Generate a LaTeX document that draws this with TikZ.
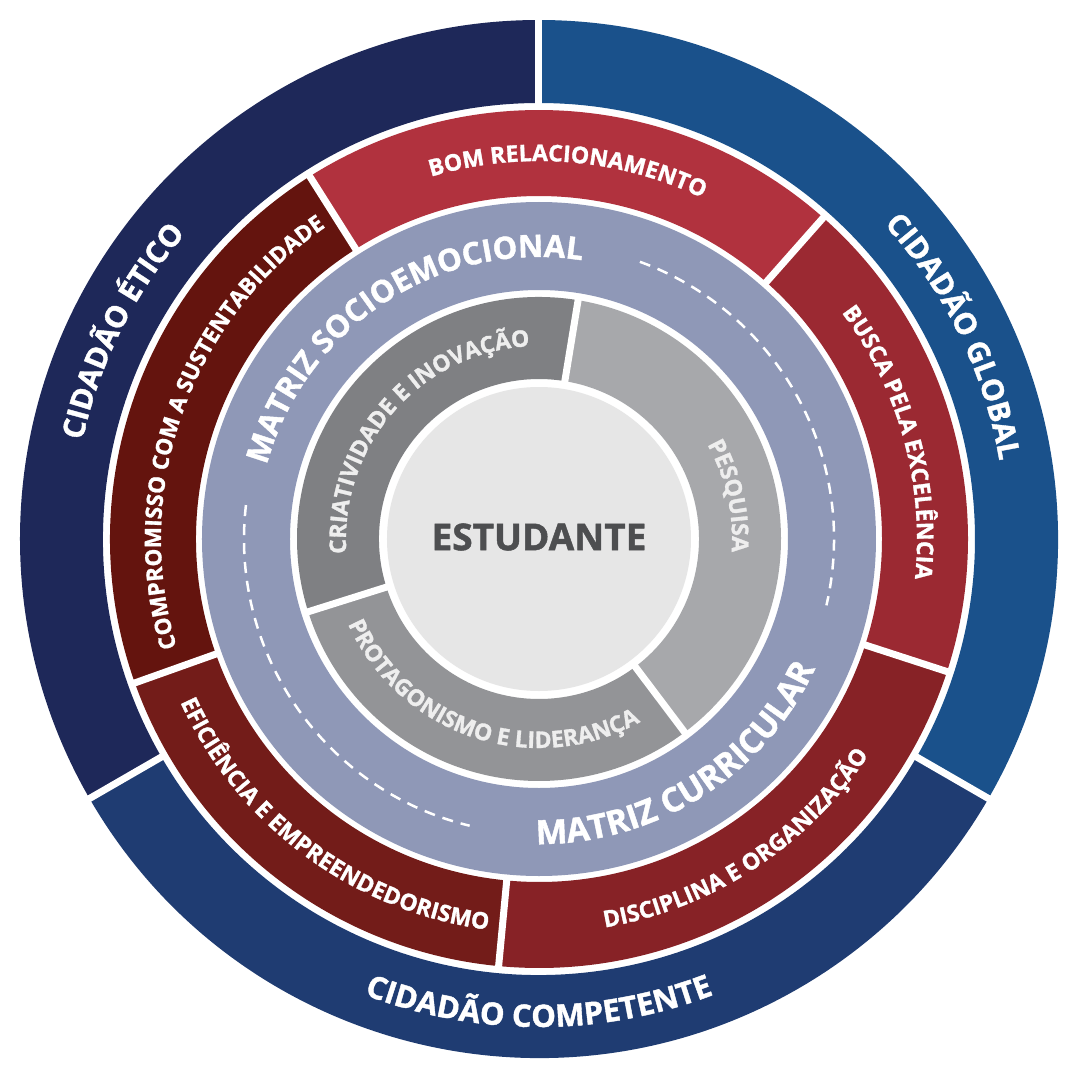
\documentclass[tikz,border=0pt]{standalone}
\usepackage{fontspec}
\setmainfont{Open Sans}[BoldFeatures={FakeBold=1.3}]
\usetikzlibrary{decorations.text}
\definecolor{etico}{HTML}{1E2859}
\definecolor{global}{HTML}{1A518B}
\definecolor{compet}{HTML}{1F3C72}
\definecolor{redA}{HTML}{B1323E}
\definecolor{redB}{HTML}{9B2932}
\definecolor{redC}{HTML}{872226}
\definecolor{redD}{HTML}{731C19}
\definecolor{redE}{HTML}{64140E}
\definecolor{lav}{HTML}{8F98B7}
\definecolor{greyA}{HTML}{7F8083}
\definecolor{greyB}{HTML}{A7A8AB}
\definecolor{greyC}{HTML}{939497}
\definecolor{core}{HTML}{E6E6E6}
\definecolor{coretext}{HTML}{4D4E50}
\definecolor{greytext}{HTML}{EEEEEE}
\newcommand\annsec[5]{\fill[#1] (#4:#3) arc[start angle=#4,end angle=#5,radius=#3] -- (#5:#2) arc[start angle=#5,end angle=#4,radius=#2] -- cycle;}
\newcommand\arctext[6]{\path[decorate,decoration={text along path,text align=center,text={|\fontsize{#4}{#4}\selectfont\bfseries\color{#5}|#6}}] (#2:#1) arc[start angle=#2,end angle=#3,radius=#1];}
\newcommand\sep[3]{\draw[sepline] (#1:#2) -- (#1:#3);}
\tikzset{sepline/.style={white,line width=7},
  dashring/.style={white,line width=2.5,dash pattern=on 11 off 8}}
\begin{document}
\begin{tikzpicture}[x=1pt,y=1pt]
\fill[white] (-539,-541) rectangle (541,539);
\useasboundingbox (-539,-541) rectangle (541,539);
% outer blue ring
\annsec{etico}{436}{519}{90}{210}
\annsec{compet}{436}{519}{210}{330}
\annsec{global}{436}{519}{-30}{90}
\sep{90}{430}{525}\sep{210}{430}{525}\sep{330}{430}{525}
% red ring
\annsec{redA}{343}{429}{48.5}{122.3}
\annsec{redE}{343}{429}{122.3}{199.6}
\annsec{redD}{343}{429}{199.6}{264.6}
\annsec{redC}{343}{429}{264.6}{342}
\annsec{redB}{343}{429}{-18}{48.5}
\sep{48.5}{338}{434}\sep{122.3}{338}{434}\sep{199.6}{338}{434}\sep{264.6}{338}{434}\sep{342}{338}{434}
% lavender ring
\annsec{lav}{249}{337}{0}{360}
\draw[dashring] (70:295) arc[start angle=70,end angle=-13,radius=295];
\draw[dashring] (173.4:295) arc[start angle=173.4,end angle=256.4,radius=295];
% grey ring
\annsec{greyA}{160}{242}{80.7}{197.5}
\annsec{greyC}{160}{242}{197.5}{307}
\annsec{greyB}{160}{242}{-53}{80.7}
\sep{80.7}{156}{245}\sep{197.5}{156}{245}\sep{307}{156}{245}
% core
\fill[core] (0,0) circle[radius=152];
\node[inner sep=0,text=coretext,font=\fontsize{37}{37}\selectfont\bfseries] (core) at (0,2) {ESTUDANTE};
% blue texts
\arctext{467}{193.5}{113.5}{30}{white}{CIDADÃO ÉTICO}
\arctext{467}{66}{-14}{30}{white}{CIDADÃO GLOBAL}
\arctext{488}{220}{320}{31}{white}{CIDADÃO COMPETENTE}
% red texts
\arctext{378}{125.5}{45.5}{23}{white}{BOM RELACIONAMENTO}
\arctext{378}{55.4}{-24.6}{23}{white}{BUSCA PELA EXCELÊNCIA}
\arctext{394}{263.2}{343.2}{23}{white}{DISCIPLINA E ORGANIZAÇÃO}
\arctext{394}{193.5}{273.5}{23}{white}{EFICIÊNCIA E EMPREENDEDORISMO}
\arctext{378}{200.5}{120.5}{22.5}{white}{COMPROMISSO COM A SUSTENTABILIDADE}
% lavender texts
\arctext{282}{183}{63}{31}{white}{MATRIZ SOCIOEMOCIONAL}
\arctext{305}{242.2}{362.2}{33.5}{white}{MATRIZ CURRICULAR}
% grey texts
\arctext{193}{208.5}{68.5}{23}{greytext}{CRIATIVIDADE E INOVAÇÃO}
\arctext{193}{72.75}{-47.25}{23}{greytext}{PESQUISA}
\arctext{209}{181.5}{321.5}{23}{greytext}{PROTAGONISMO E LIDERANÇA}
\end{tikzpicture}
\end{document}
